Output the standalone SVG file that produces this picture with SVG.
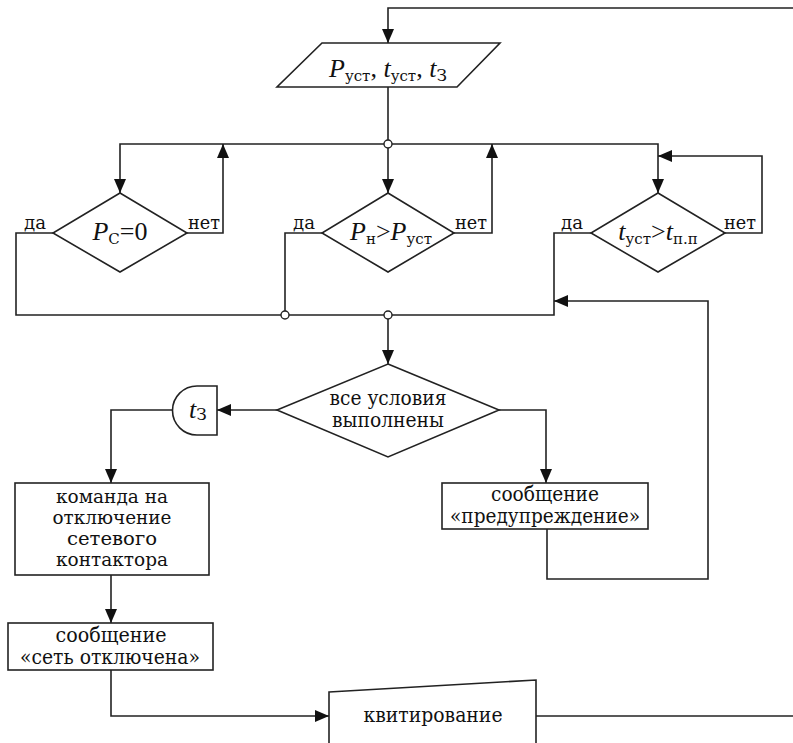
<svg xmlns="http://www.w3.org/2000/svg" width="793" height="743" viewBox="0 0 793 743" font-family="'DejaVu Serif',serif">
<style>
.s{fill:#fff;stroke:#222;stroke-width:1.6}
.c{fill:none;stroke:#222;stroke-width:1.6}
.j{fill:#fff;stroke:#222;stroke-width:1.4}
text{font-family:'Liberation Serif','Times New Roman',serif;fill:#111}
.cy{font-family:'DejaVu Serif','Liberation Serif',serif}
.t{font-size:19px;text-anchor:middle}
.u{font-size:20px;text-anchor:middle}
.l{font-size:18px}
.m{font-size:26px;text-anchor:middle}
.i{font-style:italic}
.b{font-size:15px}
</style>
<defs>
<marker id="a" markerUnits="userSpaceOnUse" markerWidth="15" markerHeight="12" refX="14" refY="6" orient="auto">
<path d="M0,0 L14,6 L0,12 Z" fill="#111"/>
</marker>
</defs>
<rect width="793" height="743" fill="#fff"/>
<g id="connectors">
<path class="c" d="M793,8 H388 V43" marker-end="url(#a)"/>
<path class="c" d="M388,87 V144"/>
<path class="c" d="M388,144 H120 V193" marker-end="url(#a)"/>
<path class="c" d="M388,144 V193" marker-end="url(#a)"/>
<path class="c" d="M388,144 H658 V193" marker-end="url(#a)"/>
<path class="c" d="M187,233 H223 V144" marker-end="url(#a)"/>
<path class="c" d="M454,233 H492 V144" marker-end="url(#a)"/>
<path class="c" d="M725,233 H762 V156 H658" marker-end="url(#a)"/>
<path class="c" d="M53,233 H16 V315 H388"/>
<path class="c" d="M322,233 H285 V315"/>
<path class="c" d="M591,233 H554 V315 H388"/>
<path class="c" d="M388,315 V364" marker-end="url(#a)"/>
<path class="c" d="M277,410 H217" marker-end="url(#a)"/>
<path class="c" d="M172,410 H111 V483" marker-end="url(#a)"/>
<path class="c" d="M111,575 V623" marker-end="url(#a)"/>
<path class="c" d="M111,670 V716 H329" marker-end="url(#a)"/>
<path class="c" d="M499,410 H546 V483" marker-end="url(#a)"/>
<path class="c" d="M547,529 V579 H708 V301 H554" marker-end="url(#a)"/>
<path class="c" d="M536,716 H793"/>
<circle class="j" cx="388" cy="144" r="4"/>
<circle class="j" cx="285" cy="315" r="4"/>
<circle class="j" cx="388" cy="315" r="4"/>
<text class="l cy" x="24" y="229" textLength="22" lengthAdjust="spacingAndGlyphs">да</text>
<text class="l cy" x="188" y="229" textLength="32" lengthAdjust="spacingAndGlyphs">нет</text>
<text class="l cy" x="293" y="229" textLength="22" lengthAdjust="spacingAndGlyphs">да</text>
<text class="l cy" x="455" y="229" textLength="32" lengthAdjust="spacingAndGlyphs">нет</text>
<text class="l cy" x="561" y="229" textLength="22" lengthAdjust="spacingAndGlyphs">да</text>
<text class="l cy" x="724" y="229" textLength="32" lengthAdjust="spacingAndGlyphs">нет</text>
</g>
<g id="input">
<polygon class="s" points="322,43 500,43 457,87 277,87"/>
<text class="m" x="388" y="77"><tspan class="i">P</tspan><tspan class="cy b" dy="4">уст</tspan><tspan dy="-4">, </tspan><tspan class="i">t</tspan><tspan class="cy b" dy="4">уст</tspan><tspan dy="-4">, </tspan><tspan class="i">t</tspan><tspan class="cy" font-size="17" dy="4">З</tspan></text>
</g>
<g id="cond1">
<polygon class="s" points="120,193 187,233 120,272 53,233"/>
<text class="m" x="120" y="240"><tspan class="i">P</tspan><tspan class="cy b" dy="4">С</tspan><tspan dy="-4">=0</tspan></text>
</g>
<g id="cond2">
<polygon class="s" points="388,193 454,233 388,272 322,233"/>
<text class="m" x="391" y="240"><tspan class="i">P</tspan><tspan class="cy b" dy="4">н</tspan><tspan dy="-4">&gt;</tspan><tspan class="i">P</tspan><tspan class="cy b" dy="4">уст</tspan></text>
</g>
<g id="cond3">
<polygon class="s" points="658,193 725,233 658,272 591,233"/>
<text class="m" x="658" y="240"><tspan class="i">t</tspan><tspan class="cy b" dy="4">уст</tspan><tspan dy="-4">&gt;</tspan><tspan class="i">t</tspan><tspan class="cy b" dy="4">п.п</tspan></text>
</g>
<g id="all">
<polygon class="s" points="388,364 499,410 388,457 277,410"/>
<text class="u cy" x="388" y="405" textLength="117" lengthAdjust="spacingAndGlyphs">все условия</text>
<text class="u cy" x="388" y="427" textLength="112" lengthAdjust="spacingAndGlyphs">выполнены</text>
</g>
<g id="delay">
<path class="s" d="M217,386 H197 A24.5,24.5 0 0 0 197,435 H217 Z"/>
<text class="m" x="198" y="418"><tspan class="i">t</tspan><tspan class="cy" font-size="17" dy="2">З</tspan></text>
</g>
<g id="cmd">
<rect class="s" x="15" y="483" width="194" height="92"/>
<text class="t cy" x="112" y="503" textLength="112" lengthAdjust="spacingAndGlyphs">команда на</text>
<text class="t cy" x="112" y="524" textLength="119" lengthAdjust="spacingAndGlyphs">отключение</text>
<text class="t cy" x="112" y="545" textLength="90" lengthAdjust="spacingAndGlyphs">сетевого</text>
<text class="t cy" x="112" y="566" textLength="112" lengthAdjust="spacingAndGlyphs">контактора</text>
</g>
<g id="warn">
<rect class="s" x="442" y="483" width="206" height="46"/>
<text class="u cy" x="545" y="501" textLength="108" lengthAdjust="spacingAndGlyphs">сообщение</text>
<text class="u cy" x="545" y="523" textLength="190" lengthAdjust="spacingAndGlyphs">«предупреждение»</text>
</g>
<g id="off">
<rect class="s" x="8" y="623" width="205" height="47"/>
<text class="u cy" x="111" y="642" textLength="111" lengthAdjust="spacingAndGlyphs">сообщение</text>
<text class="u cy" x="110" y="664" textLength="180" lengthAdjust="spacingAndGlyphs">«сеть отключена»</text>
</g>
<g id="ack">
<polygon class="s" points="329,692 536,680 536,750 329,750"/>
<text class="u cy" x="433" y="722" textLength="139" lengthAdjust="spacingAndGlyphs">квитирование</text>
</g>
</svg>
